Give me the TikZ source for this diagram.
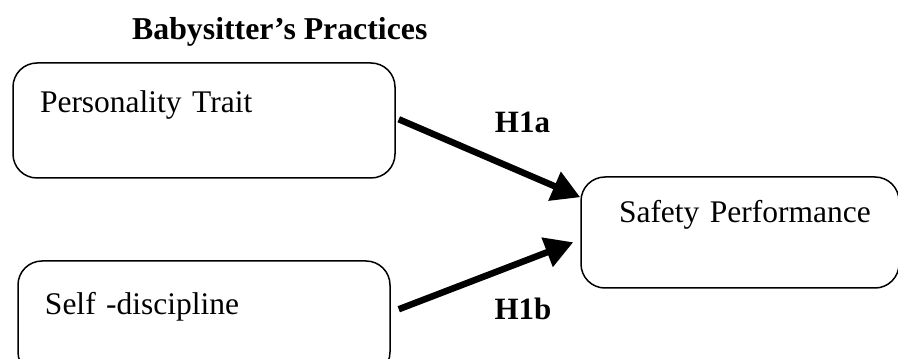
\documentclass[tikz,border=0pt]{standalone}
\usepackage{fontspec}
\setmainfont{Liberation Serif}
\usepackage{tikz}
\usetikzlibrary{shapes.geometric, arrows.meta}
\tikzstyle{block} = [rectangle, rounded corners=24pt, draw=black, line width=1.5pt, align=left, inner ysep=0pt, font=\fontsize{31.5}{36}\selectfont]
\tikzstyle{hyp} = [font=\fontsize{31}{36}\selectfont\bfseries, inner sep=0pt]
\tikzstyle{arrow} = [line width=6.5pt, -{Triangle[length=28pt,width=30pt]}]

\begin{document}
\begin{tikzpicture}[x=1pt, y=1pt]
    \useasboundingbox (0,0) rectangle (898,359);
    \node (title) [anchor=base west, inner sep=0pt, font=\fontsize{31.8}{36}\selectfont\bfseries] at (132,319) {Babysitter's Practices};
    \node (trait) [block, inner xsep=27pt, text width=328pt, text height=50pt, text depth=65pt] at (204,238.5) {Personality Trait};
    \node (discipline) [block, inner xsep=27pt, text width=318pt, text height=54pt, text depth=61pt] at (204,40.5) {Self -discipline};
    \node (safety) [block, inner xsep=38pt, text width=242pt, text height=46pt, text depth=65pt] at (740,126.5) {\mbox{Safety Performance}};

    \draw [arrow] ([xshift=3pt,yshift=-57pt]trait.north east) -- node[hyp, xshift=33pt, yshift=36pt] {H1a} ([yshift=-21pt]safety.north west);
    \draw [arrow] ([xshift=8pt,yshift=-49pt]discipline.north east) -- node[hyp, xshift=37pt, yshift=-33.5pt] {H1b} ([xshift=-7pt,yshift=-66pt]safety.north west);
\end{tikzpicture}
\end{document}
